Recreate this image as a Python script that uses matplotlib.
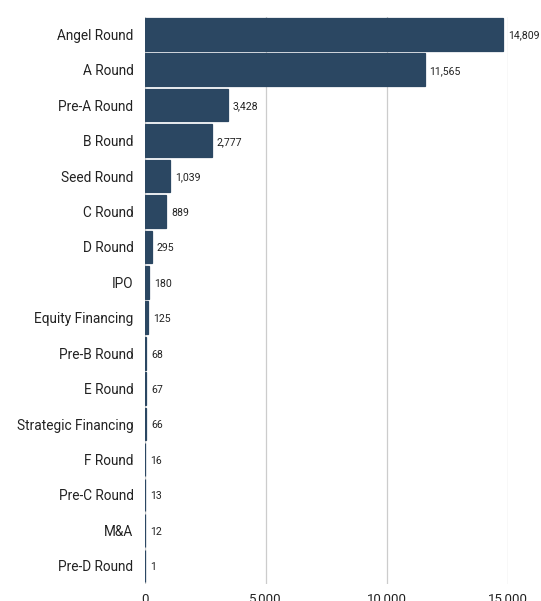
import matplotlib
matplotlib.use("Agg")
import matplotlib.pyplot as plt
from matplotlib.ticker import FuncFormatter

plt.rcParams['font.family'] = ['Roboto', 'DejaVu Sans']

# financing rounds and number of deals
rounds = ['Angel Round', 'A Round', 'Pre-A Round', 'B Round', 'Seed Round',
          'C Round', 'D Round', 'IPO', 'Equity Financing', 'Pre-B Round',
          'E Round', 'Strategic Financing', 'F Round', 'Pre-C Round', 'M&A',
          'Pre-D Round']
counts = [14809, 11565, 3428, 2777, 1039, 889, 295, 180, 125, 68, 67, 66,
          16, 13, 12, 1]
xticks = [0, 5000, 10000, 15000]

bar_color = '#2b4762'

fig = plt.figure(figsize=(5.41, 6.01), dpi=100)
ax = fig.add_axes([0.2675, 0.029, 0.671, 0.9435])

ypos = list(range(len(rounds)))
ax.barh(ypos, counts, height=0.92, color=bar_color, edgecolor=bar_color,
        linewidth=0.9, zorder=3)

for y, v in zip(ypos, counts):
    ax.annotate(f'{v:,}', xy=(v, y), xytext=(3.6, -1), textcoords='offset points',
                va='center', ha='left', fontsize=7.6, color='#222222',
                annotation_clip=False)

ax.set_yticks(ypos)
ax.set_yticklabels(rounds, fontsize=9.8, color='#222222')
ax.set_ylim(len(rounds) - 0.5, -0.5)

ax.set_xlim(0, 15000)
ax.set_xticks(xticks)
ax.xaxis.set_major_formatter(FuncFormatter(lambda v, p: f'{int(v):,}'))
ax.tick_params(axis='x', length=0, pad=6.5, labelsize=9.5, labelcolor='#222222')
ax.tick_params(axis='y', length=0, pad=8)

ax.grid(axis='x', color='#cccccc', linewidth=0.9, zorder=0)
ax.grid(axis='y', visible=False)
for s in ax.spines.values():
    s.set_visible(False)

fig.savefig('out.png', dpi=100, facecolor='white')
